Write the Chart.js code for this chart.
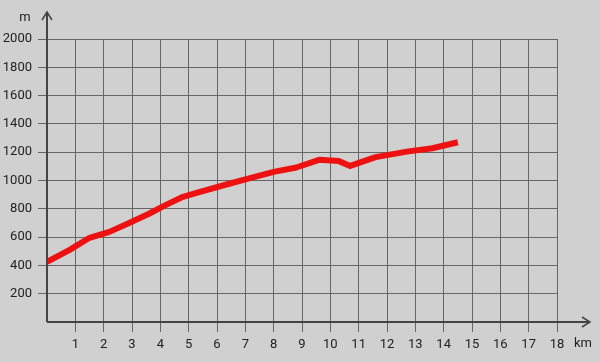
<!DOCTYPE html>
<html>
<head>
<meta charset="utf-8">
<script src="https://cdn.jsdelivr.net/npm/chart.js@4"></script>
<style>
  html, body { margin: 0; padding: 0; background: #d0d0d0; }
  #wrap { width: 600px; height: 362px; }
</style>
</head>
<body>
<div id="wrap"><canvas id="profile" width="600" height="362"></canvas></div>
<script>
// distance (km) and altitude (m)
const km = [0, 0.8, 1.5, 2.2, 2.9, 3.6, 4.2, 4.8, 5.4, 6.3, 7.2, 8.0, 8.8, 9.6, 10.3, 10.7, 11.6, 12.7, 13.6, 14.5];
const altitude = [425, 510, 595, 637, 700, 765, 828, 885, 920, 970, 1019, 1061, 1092, 1146, 1137, 1103, 1165, 1204, 1228, 1270];
const xUnit = 'km';
const yUnit = 'm';

const points = km.map((d, i) => ({ x: d, y: altitude[i] }));

// no grid line / tick at the origin, the axis line covers it
const gridColor = ctx => ctx.tick && ctx.tick.value === 0 ? 'rgba(0,0,0,0)' : '#666';

// axis lines with arrow heads + unit labels
const axesPlugin = {
    id: 'axes',
    afterDraw(chart) {
        const c = chart.ctx;
        const a = chart.chartArea;
        c.save();
        c.strokeStyle = '#444';
        c.lineWidth = 2;
        c.beginPath();
        c.moveTo(a.left, a.bottom);
        c.lineTo(a.left, 12);
        c.moveTo(a.left, a.bottom);
        c.lineTo(590, a.bottom);
        c.stroke();
        c.lineWidth = 1.5;
        c.beginPath();
        c.moveTo(a.left - 5, 20);
        c.lineTo(a.left, 12);
        c.lineTo(a.left + 5, 20);
        c.moveTo(582, a.bottom - 5);
        c.lineTo(590, a.bottom);
        c.lineTo(582, a.bottom + 5);
        c.stroke();
        c.fillStyle = '#222';
        c.font = '13px Roboto, sans-serif';
        c.textAlign = 'center';
        c.textBaseline = 'middle';
        c.fillText(yUnit, 25, 18);
        c.fillText(xUnit, 583, 344);
        c.restore();
    }
};

new Chart(document.getElementById('profile').getContext('2d'), {
    type: 'line',
    data: {
        datasets: [{
            data: points,
            borderColor: '#ee1111',
            borderWidth: 6,
            borderJoinStyle: 'round',
            borderCapStyle: 'butt',
            pointRadius: 0,
            tension: 0,
            fill: false
        }]
    },
    options: {
        responsive: false,
        animation: false,
        layout: { padding: { top: 39, right: 43, left: 0, bottom: 0 } },
        plugins: { legend: { display: false }, tooltip: { enabled: false } },
        scales: {
            x: {
                type: 'linear',
                min: 0,
                max: 18,
                afterFit(s) { s.height = 40; },
                border: { display: false },
                grid: { color: gridColor, lineWidth: 1, tickLength: 10 },
                ticks: {
                    stepSize: 1,
                    padding: 5,
                    color: '#222',
                    font: { family: 'Roboto, sans-serif', size: 13 },
                    callback: v => v === 0 ? '' : v
                }
            },
            y: {
                min: 0,
                max: 2000,
                afterFit(s) { s.width = 47; },
                border: { display: false },
                grid: { color: gridColor, lineWidth: 1, tickLength: 9 },
                ticks: {
                    stepSize: 200,
                    padding: 6,
                    color: '#222',
                    font: { family: 'Roboto, sans-serif', size: 13 },
                    callback: v => v === 0 ? '' : v
                }
            }
        }
    },
    plugins: [axesPlugin]
});
</script>
</body>
</html>
